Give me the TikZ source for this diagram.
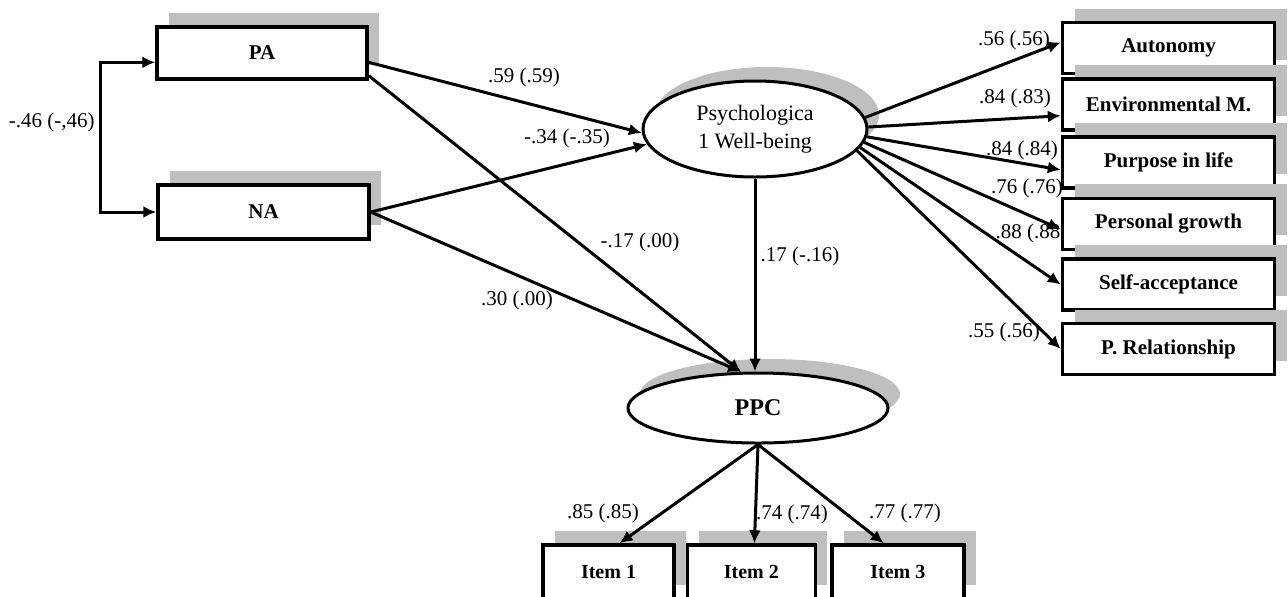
\documentclass[tikz,border=0pt]{standalone}
\usepackage{fontspec}
\setmainfont{Liberation Serif}
\usetikzlibrary{arrows.meta,shapes,positioning,calc,shadows}
\tikzset{
  basic/.style  = {draw, fill=white, line width=1.7pt, inner sep=0pt,
  font=\fontsize{10.5}{12}\selectfont\bfseries,
  drop shadow={shadow xshift=6pt, shadow yshift=7pt, fill=gray!50, opacity=1}},
  obs/.style    = {basic, rectangle, minimum width=106pt, minimum height=25.5pt},
  item/.style   = {basic, rectangle, minimum width=64.5pt, minimum height=27pt,
  font=\fontsize{10}{12}\selectfont\bfseries},
  latent/.style = {basic, ellipse, line width=1.5pt},
  coef/.style   = {inner sep=0pt, font=\fontsize{10.5}{12}\selectfont},
  link/.style   = {->, line width=1.5pt}
}

\begin{document}
\begin{tikzpicture}[x=0.5pt, y=-0.5pt, >={Latex[length=6.5pt,width=6pt]}]
  \useasboundingbox (0,0) rectangle (1288,596);

% exogenous variables
  \node[obs, minimum width=105pt, minimum height=26pt] (pa) at (262,53) {PA};
  \node[obs, minimum width=105.5pt, minimum height=27pt] (na) at (263.5,212) {NA};

% latent variables
  \node[latent, minimum width=112pt, minimum height=48pt, align=center,
    font=\fontsize{11}{14}\selectfont] (psy) at (755,129) {Psychologica\\1 Well-being};
  \node[latent, minimum width=130pt, minimum height=35pt,
    font=\fontsize{12}{14}\selectfont\bfseries] (ppc) at (758,408) {PPC};

% indicators of well-being, relatively positioned
  \node[obs] (auto) at (1168.5,48) {Autonomy};
  \node[obs, below=1pt of auto] (env) {Environmental M.};
  \node[obs, below=1.75pt of env] (pur) {Purpose in life};
  \node[obs, below=3.5pt of pur] (pg) {Personal growth};
  \node[obs, below=3.25pt of pg] (sa) {Self-acceptance};
  \node[obs, below=5pt of sa] (pr) {P. Relationship};

% indicators of PPC
  \node[item, minimum width=65.5pt] (it1) at (608.5,572) {Item 1};
  \node[item, minimum width=64pt, right=5pt of it1] (it2) {Item 2};
  \node[item, minimum width=66pt, right=6.5pt of it2] (it3) {Item 3};

% covariance between PA and NA
  \coordinate (cov) at (100,122);
  \draw[link, <->] (pa.185) -| (cov) |- (na.west);
  \node[coef, left=2.5pt of cov] (l46) {-.46 (-,46)};

% structural paths
  \draw[link] (pa.-5) -- (psy.182);
  \draw[link] (pa.-12) -- (ppc.115);
  \draw[link] (na.east) -- (psy.188);
  \draw[link] (na.east) -- (ppc.115);
  \draw[link] (psy.south) -- (psy.south |- ppc.north);

  \node[coef] (l59) at (524,77) {.59 (.59)};
  \node[coef] (l34) at (567,138) {-.34 (-.35)};
  \node[coef] (l17) at (640,242) {-.17 (.00)};
  \node[coef] (l30) at (517,300) {.30 (.00)};
  \node[coef] (l17b) at (800,256) {.17 (-.16)};

% loadings
  \foreach \dst/\src/\at in {auto/6/177, env/1/186, pur/-4/184, pg/-7/183, sa/-10/180, pr/-12/180}
  \draw[link] (psy.\src) -- (\dst.\at);

  \draw[link] (ppc.south) -- ([xshift=5.5pt]it1.north);
  \draw[link] (ppc.south) -- ([xshift=1.5pt]it2.north);
  \draw[link] (ppc.south) -- ([xshift=-7pt]it3.north);

  \node[coef] (l56) at (1014,40) {.56 (.56)};
  \node[coef] (l83) at (1015,98) {.84 (.83)};
  \node[coef] (l84) at (1022,150) {.84 (.84)};
  \node[coef] (l76) at (1027,188) {.76 (.76)};
  \node[coef] (l88) at (1028,233) {.88 (.88};
  \node[coef] (l55) at (1004,332) {.55 (.56)};
  \node[coef] (l85) at (603,513) {.85 (.85)};
  \node[coef] (l74) at (792,514) {.74 (.74)};
  \node[coef] (l77) at (905,513) {.77 (.77)};
\end{tikzpicture}
\end{document}
